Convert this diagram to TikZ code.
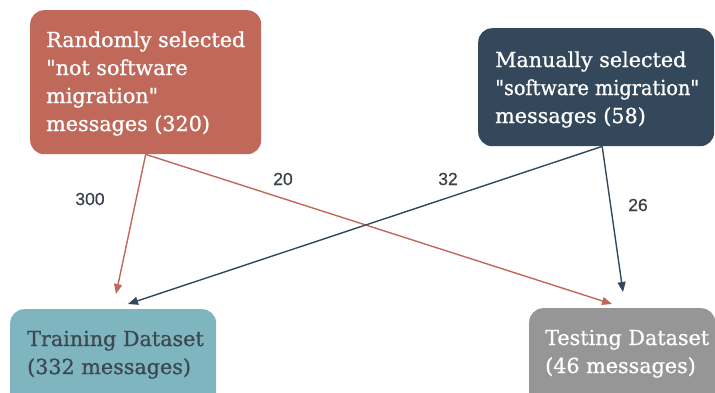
\documentclass[tikz,border=0pt]{standalone}
\usepackage{fontspec}
\setmainfont[FakeBold=0.9]{DejaVu Serif}
\newfontfamily\labelfont[FakeBold=0.6]{Liberation Sans}
\usetikzlibrary{arrows.meta}
\definecolor{cred}{RGB}{192,105,90}
\definecolor{cdark}{RGB}{52,72,92}
\definecolor{cteal}{RGB}{127,181,191}
\definecolor{cgray}{RGB}{150,150,150}
\definecolor{ctxt}{RGB}{60,72,82}
\definecolor{clab}{RGB}{58,64,72}
\tikzset{
  box/.style={rectangle, rounded corners=14pt, draw=none, anchor=north west, inner sep=0pt},
  boxtext/.style={anchor=base west, inner sep=0pt, font=\fontsize{20.7}{28}\selectfont},
  lab/.style={font=\labelfont\fontsize{17.5}{20}\selectfont, text=clab, inner sep=0pt},
  arr/.style={line width=1.4pt, -{Triangle[length=10pt,width=8pt]}},
}
\newcommand{\lines}[1]{\vtop{\baselineskip=28pt #1}}
\newcommand{\q}{\textquotedbl}
\begin{document}
\begin{tikzpicture}[x=1pt,y=-1pt]
\useasboundingbox (0,0) rectangle (715,392);
\clip (0,0) rectangle (715,392);
% boxes
\node[box, fill=cred, minimum width=231pt, minimum height=144pt] (n1) at (30,10) {};
\node[box, fill=cdark, minimum width=236pt, minimum height=118pt] (n2) at (478,28) {};
\node[box, fill=cteal, minimum width=206pt, minimum height=100pt] (n3) at (10,309) {};
\node[box, fill=cgray, minimum width=186pt, minimum height=100pt] (n4) at (529,308) {};
% texts
\node[boxtext, text=white] (t1) at (46,47) {\lines{\hbox{Randomly selected}\hbox{\q not software}\hbox{migration\q}\hbox{messages (320)}}};
\node[boxtext, text=white] (t2) at (495,67) {\lines{\hbox{Manually selected}\hbox{\scalebox{0.93}[1]{\q software migration\q}}\hbox{messages (58)}}};
\node[boxtext, text=ctxt] (t3) at (27,346) {\lines{\hbox{Training Dataset}\hbox{(332 messages)}}};
\node[boxtext, text=white] (t4) at (545,345) {\lines{\hbox{Testing Dataset}\hbox{(46 messages)}}};
% arrow ends
\coordinate (e1) at (116,294);
\coordinate (e2) at (612,304);
\coordinate (e3) at (128,304);
\coordinate (e4) at (623,292);
% connectors
\draw[arr, draw=cred, fill=cred] (n1.south) -- (e1);
\draw[arr, draw=cred, fill=cred] (n1.south) -- (e2);
\draw[arr, draw=cdark, fill=cdark] ([xshift=6pt]n2.south) -- (e3);
\draw[arr, draw=cdark, fill=cdark] ([xshift=6pt]n2.south) -- (e4);
% labels
\node[lab] (l1) at (90,199) {300};
\node[lab] (l2) at (283,179) {20};
\node[lab] (l3) at (448,179) {32};
\node[lab] (l4) at (638,205) {26};
\end{tikzpicture}
\end{document}
